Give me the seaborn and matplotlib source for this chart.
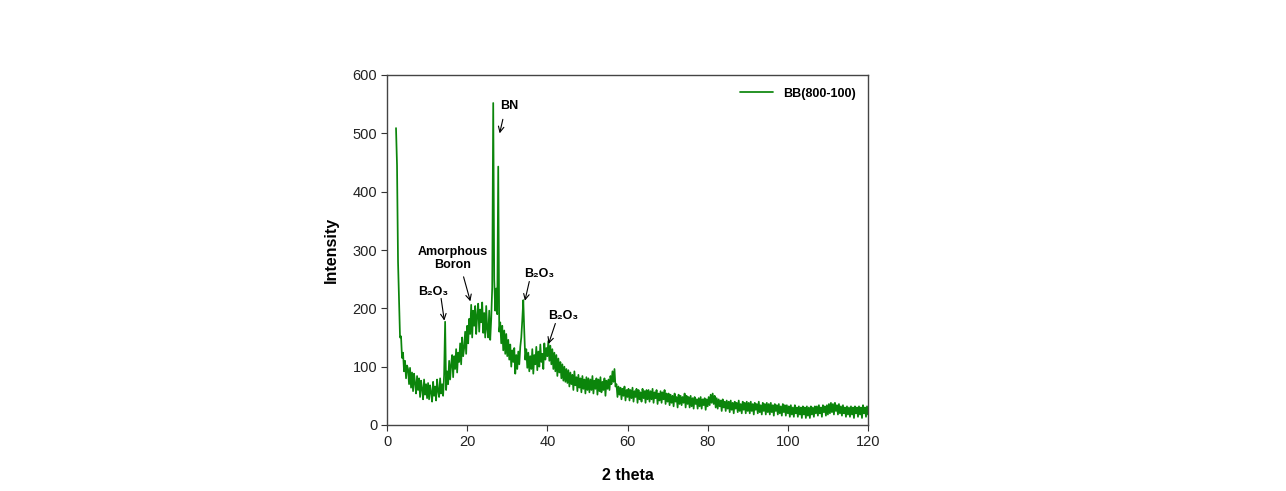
import numpy as np
import pandas as pd
import seaborn as sns
import matplotlib
matplotlib.use("Agg")
import matplotlib.pyplot as plt

# XRD scan, 2-theta from 2.25 to 120 deg in 0.25 deg steps
start_angle = 2.25
step_angle = 0.25
intensity = [
    509, 445, 280, 215, 150, 152, 115, 124, 92, 110, 80, 102,                          # 2.25-5
    96, 70, 98, 64, 90, 58, 88, 72, 54, 84, 60, 80, 48, 76, 62, 44, 78, 52, 70, 46,    # -10
    72, 44, 68, 56, 40, 74, 50, 66, 42, 78, 58, 48, 80, 54, 70, 50, 86, 177, 60, 92,   # -15
    70, 110, 78, 104, 120, 82, 118, 96, 130, 90, 124, 108, 140, 104, 150, 118, 132, 160, 122, 170,  # -20
    140, 182, 156, 206, 150, 196, 170, 204, 156, 188, 208, 160, 198, 176, 210, 158, 192, 150, 204, 164,  # -25
    150, 196, 146, 182, 236, 552, 250, 196, 234, 190, 443, 160, 176, 140, 170, 128, 162, 122, 156, 118,  # -30
    146, 112, 138, 100, 128, 108, 132, 88, 120, 96, 126, 104, 134, 150, 180, 214, 160, 112, 130, 98,  # -35
    124, 92, 118, 96, 130, 88, 120, 104, 134, 94, 126, 100, 138, 108, 122, 96, 140, 112, 132, 118,  # -40
    144, 110, 136, 104, 130, 96, 124, 92, 120, 84, 114, 90, 108, 80, 104, 76, 100, 74, 96, 72,  # -45
    94, 66, 90, 70, 86, 60, 92, 68, 82, 58, 86, 64, 80, 56, 84, 62, 78, 54, 82, 60,     # -50
    80, 56, 78, 60, 84, 54, 76, 62, 80, 52, 78, 58, 82, 56, 74, 60, 80, 50, 76, 62,     # -55
    78, 60, 84, 70, 92, 74, 96, 66, 70, 48, 66, 52, 64, 44, 62, 50, 66, 42, 60, 48,     # -60
    62, 42, 60, 46, 64, 40, 58, 48, 62, 38, 60, 44, 56, 40, 62, 46, 58, 38, 60, 44,     # -65
    60, 40, 58, 44, 62, 38, 56, 46, 60, 36, 54, 42, 58, 38, 56, 44, 60, 36, 54, 40,     # -70
    54, 34, 52, 38, 50, 32, 54, 40, 48, 30, 52, 36, 50, 34, 48, 38, 54, 30, 50, 36,     # -75
    48, 30, 50, 32, 46, 28, 48, 36, 44, 28, 46, 32, 48, 28, 44, 34, 46, 26, 44, 32,     # -80
    48, 34, 52, 38, 54, 36, 50, 30, 46, 28, 44, 32, 42, 24, 44, 30, 40, 24, 42, 28,     # -85
    40, 22, 42, 26, 38, 20, 40, 28, 38, 22, 42, 24, 36, 20, 40, 26, 38, 20, 40, 24,     # -90
    38, 20, 40, 24, 36, 18, 38, 26, 36, 20, 40, 22, 34, 18, 38, 24, 36, 18, 38, 22,     # -95
    36, 18, 38, 22, 34, 16, 36, 24, 34, 18, 36, 20, 32, 16, 36, 22, 34, 16, 34, 20,     # -100
    32, 14, 34, 18, 30, 14, 34, 20, 30, 14, 32, 18, 30, 12, 32, 18, 30, 12, 32, 16,     # -105
    30, 12, 32, 18, 30, 14, 32, 20, 32, 16, 34, 20, 30, 14, 34, 22, 32, 16, 34, 18,     # -110
    36, 20, 38, 22, 36, 18, 38, 24, 34, 18, 36, 20, 32, 16, 34, 20, 30, 14, 32, 18,     # -115
    30, 14, 32, 18, 30, 12, 32, 20, 30, 14, 32, 18, 30, 12, 34, 20, 30, 14, 32, 18,     # -120
]
two_theta = start_angle + step_angle * np.arange(len(intensity))

series_name = "BB(800-100)"

# peak labels: text, label position, arrow start, arrow tip
peak_labels = ["BN", "Amorphous\nBoron", "B\u2082O\u2083", "B\u2082O\u2083", "B\u2082O\u2083"]
label_pos = [(30.4, 547), (16.4, 285), (11.5, 228), (37.9, 259), (43.9, 187)]
arrow_tail = [(28.9, 524), (19.1, 254), (13.5, 217), (35.5, 246), (42.0, 174)]
arrow_tip = [(28.1, 500), (20.8, 212), (14.3, 179), (34.4, 213), (40.3, 139)]

df = pd.DataFrame({"2 theta": two_theta, "Intensity": intensity})

sns.set_style("ticks")
plt.rcParams["font.family"] = ["Liberation Sans", "DejaVu Sans"]

fig = plt.figure(figsize=(12.86, 4.91), dpi=100)
ax = fig.add_axes([387 / 1286, 1 - 425 / 491, 481 / 1286, 350 / 491])

sns.lineplot(data=df, x="2 theta", y="Intensity", ax=ax, color="#0b850b",
             linewidth=1.25, label=series_name, estimator=None, sort=False)

ax.set_xlim(0, 120)
ax.set_ylim(0, 600)
ax.set_xticks(range(0, 121, 20))
ax.set_yticks(range(0, 601, 100))
ax.tick_params(axis="both", direction="out", length=4, width=0.8, labelsize=10.5,
               colors="#333333", labelcolor="#222222", pad=3)
for sp in ax.spines.values():
    sp.set_visible(True)
    sp.set_color("#444444")
    sp.set_linewidth(1.0)

ax.set_xlabel("2 theta", fontsize=11.5, fontweight="bold", labelpad=14, color="black")
ax.set_ylabel("Intensity", fontsize=11.5, fontweight="bold", labelpad=10, color="black")

for txt, pos, tail, tip in zip(peak_labels, label_pos, arrow_tail, arrow_tip):
    ax.text(pos[0], pos[1], txt, ha="center", va="center", fontsize=9,
            fontweight="bold", linespacing=1.1, color="black")
    ax.annotate("", xy=tip, xytext=tail,
                arrowprops=dict(arrowstyle="->", color="black", lw=0.8,
                                shrinkA=0, shrinkB=0))

leg = ax.legend(loc="upper right", frameon=False, fontsize=9,
                handlelength=2.6, borderaxespad=0.6)
for t in leg.get_texts():
    t.set_fontweight("bold")
    t.set_color("black")

fig.savefig("out.png", dpi=100)
